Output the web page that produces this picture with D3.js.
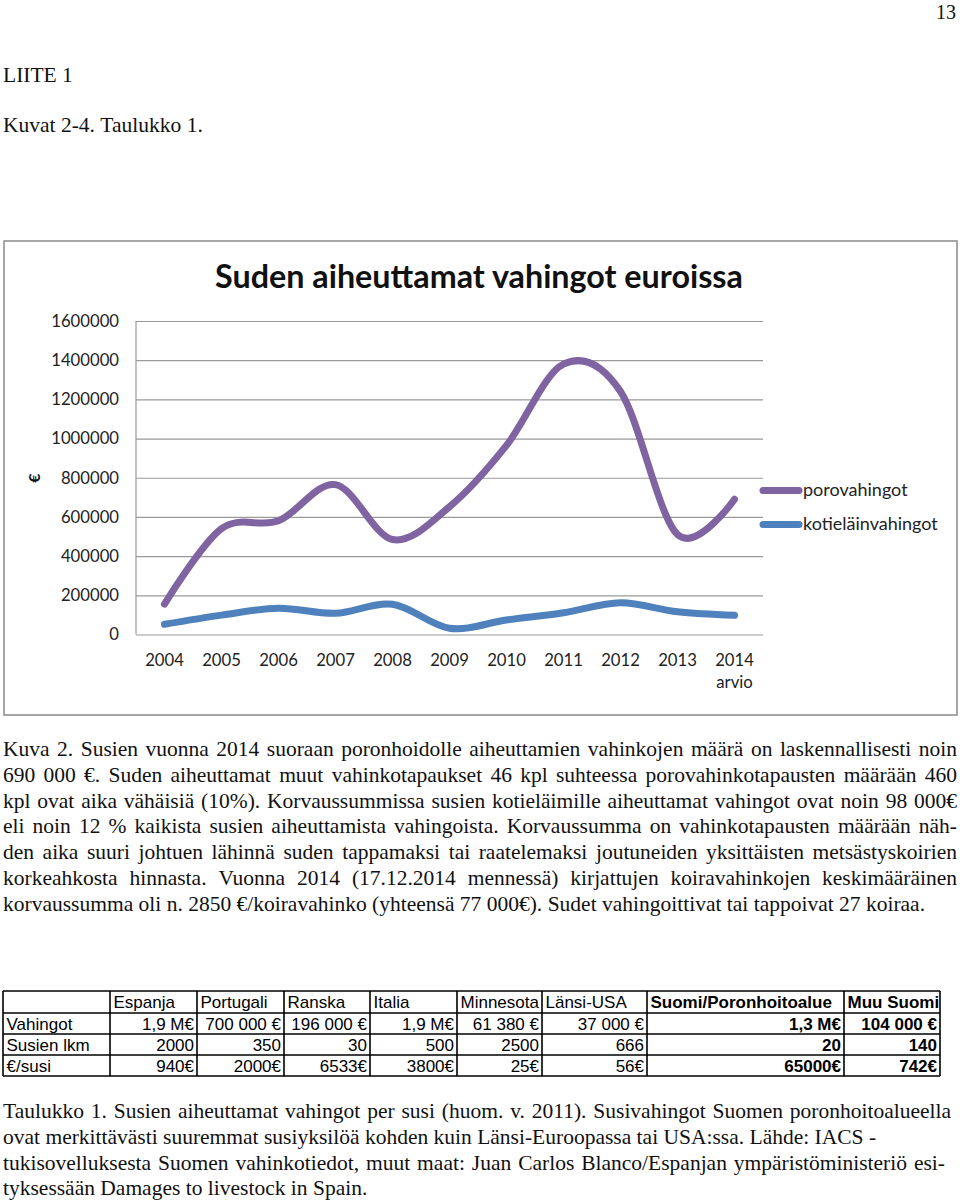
<!DOCTYPE html>
<html>
<head>
<meta charset="utf-8">
<script src="https://cdnjs.cloudflare.com/ajax/libs/d3/7.8.5/d3.min.js"></script>
<style>
  body { margin: 0; background: #fff; }
  svg { display: block; }
  .serif { font-family: "Liberation Serif", "Times New Roman", serif; font-size: 21.5px; fill: #111; }
  .tbl { font-family: "Liberation Sans", Arial, sans-serif; font-size: 17px; fill: #000; }
</style>
</head>
<body>
<div id="page"></div>
<script>
// chart data
var years = ["2004", "2005", "2006", "2007", "2008", "2009", "2010", "2011", "2012", "2013", "2014"];
var yearNotes = ["", "", "", "", "", "", "", "", "", "", "arvio"];
var poroDamage = [155000, 540000, 580000, 765000, 485000, 652000, 965000, 1380000, 1240000, 510000, 690000];
var kotiDamage = [52000, 99000, 134000, 108000, 154000, 32000, 74000, 111000, 162000, 116000, 98000];
var seriesNames = ["porovahingot", "kotieläinvahingot"];
var seriesColors = ["#8064a2", "#4f81bd"];
var yTicks = [0, 200000, 400000, 600000, 800000, 1000000, 1200000, 1400000, 1600000];
var chartTitle = "Suden aiheuttamat vahingot euroissa";

// table data
var tableHeader = ["", "Espanja", "Portugali", "Ranska", "Italia", "Minnesota", "Länsi-USA", "Suomi/Poronhoitoalue", "Muu Suomi"];
var tableRows = [
  ["Vahingot", "1,9 M€", "700 000 €", "196 000 €", "1,9 M€", "61 380 €", "37 000 €", "1,3 M€", "104 000 €"],
  ["Susien lkm", "2000", "350", "30", "500", "2500", "666", "20", "140"],
  ["€/susi", "940€", "2000€", "6533€", "3800€", "25€", "56€", "65000€", "742€"]
];

// page text
var pageNumber = "13";
var headingLines = ["LIITE 1", "Kuvat 2-4. Taulukko 1."];
var captionLines = [
  "Kuva 2. Susien vuonna 2014 suoraan poronhoidolle aiheuttamien vahinkojen määrä on laskennallisesti noin",
  "690 000 €. Suden aiheuttamat muut vahinkotapaukset 46 kpl suhteessa porovahinkotapausten määrään 460",
  "kpl ovat aika vähäisiä (10%). Korvaussummissa susien kotieläimille aiheuttamat vahingot ovat noin 98 000€",
  "eli noin 12 % kaikista susien aiheuttamista vahingoista. Korvaussumma on vahinkotapausten määrään näh-",
  "den aika suuri johtuen lähinnä suden tappamaksi tai raatelemaksi joutuneiden yksittäisten metsästyskoirien",
  "korkeahkosta hinnasta. Vuonna 2014 (17.12.2014 mennessä) kirjattujen koiravahinkojen keskimääräinen",
  "korvaussumma oli n. 2850 €/koiravahinko (yhteensä 77 000€). Sudet vahingoittivat tai tappoivat 27 koiraa."
];
var tableCaptionLines = [
  "Taulukko 1. Susien aiheuttamat vahingot per susi (huom. v. 2011). Susivahingot Suomen poronhoitoalueella",
  "ovat merkittävästi suuremmat susiyksilöä kohden kuin Länsi-Euroopassa tai USA:ssa. Lähde: IACS -",
  "tukisovelluksesta Suomen vahinkotiedot, muut maat: Juan Carlos Blanco/Espanjan ympäristöministeriö esi-",
  "tyksessään Damages to livestock in Spain."
];

// layout
var svg = d3.select("#page").append("svg")
  .attr("width", 960)
  .attr("height", 1204);

var chartFont = "Lato, 'Open Sans', sans-serif";
var plot = { left: 136, right: 763, top: 321, bottom: 634.5 };

// --- page text helpers ---
var spaceWidth = (function() {
  var t = svg.append("text").attr("class", "serif");
  var a = t.text("a a").node().getComputedTextLength();
  var b = t.text("aa").node().getComputedTextLength();
  t.remove();
  return a - b;
})();

// one line of body text, spread to x1 when x1 is given
function textLine(g, str, x0, y, x1) {
  var words = str.split(" ");
  var nodes = words.map(function(w) {
    return g.append("text").attr("class", "serif").attr("y", y).text(w);
  });
  var widths = nodes.map(function(n) { return n.node().getComputedTextLength(); });
  var gap = spaceWidth;
  if (x1 != null && words.length > 1) {
    gap = (x1 - x0 - d3.sum(widths)) / (words.length - 1);
  }
  var x = x0;
  nodes.forEach(function(n, i) {
    n.attr("x", x);
    x += widths[i] + gap;
  });
}

var textG = svg.append("g");

textG.append("text")
  .attr("class", "serif")
  .attr("x", 956)
  .attr("y", 19)
  .attr("text-anchor", "end")
  .style("font-size", "20px")
  .text(pageNumber);

textLine(textG, headingLines[0], 3, 82, null);
textLine(textG, headingLines[1], 3, 131.7, null);

captionLines.forEach(function(l, i) {
  var last = i === captionLines.length - 1;
  textLine(textG, l, 3, 756 + i * 25.8, last ? null : 957);
});

var tableCaptionEnds = [951, null, 945, null];
tableCaptionLines.forEach(function(l, i) {
  textLine(textG, l, 3, 1118 + i * 25.8, tableCaptionEnds[i]);
});

// --- chart ---
svg.append("rect")
  .attr("x", 4)
  .attr("y", 241)
  .attr("width", 953)
  .attr("height", 474)
  .attr("fill", "#fff")
  .attr("stroke", "#8a8a8a")
  .attr("stroke-width", 1.5);

// title, scaled to the width of the original lettering
var title = svg.append("text")
  .attr("x", 479)
  .attr("y", 288)
  .attr("text-anchor", "middle")
  .attr("font-family", chartFont)
  .attr("font-weight", "bold")
  .attr("font-size", 30)
  .attr("fill", "#111")
  .text(chartTitle);
var tw = title.node().getComputedTextLength();
title.attr("font-size", 30 * 528 / tw);

var x = d3.scaleBand()
  .domain(years)
  .range([plot.left, plot.right]);

var y = d3.scaleLinear()
  .domain([0, 1600000])
  .range([plot.bottom, plot.top]);

var leftAxis = d3.axisLeft(y)
  .tickValues(yTicks)
  .tickSize(-(plot.right - plot.left))
  .tickPadding(17)
  .tickFormat(d3.format("d"));

svg.append("g")
  .attr("transform", `translate(${plot.left}, 0)`)
  .call(leftAxis)
  .attr("font-family", chartFont)
  .attr("font-size", 16.7)
  .call(function(g) { g.select(".domain").remove(); })
  .call(function(g) {
    g.selectAll(".tick line").attr("stroke", "#9a9a9a").attr("stroke-width", 1.2);
    g.selectAll(".tick text").attr("fill", "#222");
  });

// vertical axis line
svg.append("line")
  .attr("x1", plot.left)
  .attr("x2", plot.left)
  .attr("y1", plot.top)
  .attr("y2", plot.bottom)
  .attr("stroke", "#9a9a9a")
  .attr("stroke-width", 1.2);

var bottomAxis = d3.axisBottom(x)
  .tickSize(0)
  .tickPadding(19.5);

svg.append("g")
  .attr("transform", `translate(0, ${plot.bottom})`)
  .call(bottomAxis)
  .attr("font-family", chartFont)
  .attr("font-size", 16.7)
  .call(function(g) { g.select(".domain").remove(); })
  .call(function(g) {
    g.selectAll(".tick text")
      .attr("fill", "#222")
      .each(function(d, i) {
        if (yearNotes[i]) {
          d3.select(this).append("tspan")
            .attr("x", 0)
            .attr("dy", "1.32em")
            .text(yearNotes[i]);
        }
      });
  });

// y axis title
svg.append("text")
  .attr("transform", "translate(40, 478) rotate(-90)")
  .attr("text-anchor", "middle")
  .attr("font-family", chartFont)
  .attr("font-weight", "bold")
  .attr("font-size", 16)
  .attr("fill", "#111")
  .text("€");

// smoothed lines
var line = d3.line()
  .x(function(d, i) { return x(years[i]) + x.bandwidth() / 2; })
  .y(function(d) { return y(d); })
  .curve(d3.curveCardinal);

[poroDamage, kotiDamage].forEach(function(series, i) {
  svg.append("path")
    .datum(series)
    .attr("d", line)
    .attr("fill", "none")
    .attr("stroke", seriesColors[i])
    .attr("stroke-width", 7)
    .attr("stroke-linecap", "round")
    .attr("stroke-linejoin", "round");
});

// legend
var legend = svg.append("g")
  .attr("font-family", chartFont)
  .attr("font-size", 18);

seriesNames.forEach(function(name, i) {
  var ly = 490.5 + i * 34;
  legend.append("line")
    .attr("x1", 763)
    .attr("x2", 799)
    .attr("y1", ly)
    .attr("y2", ly)
    .attr("stroke", seriesColors[i])
    .attr("stroke-width", 7)
    .attr("stroke-linecap", "round");
  legend.append("text")
    .attr("x", 803)
    .attr("y", ly)
    .attr("dy", "0.32em")
    .attr("fill", "#222")
    .text(name);
});

// --- table ---
var colX = [3, 110, 197, 284, 370, 457, 542, 647, 844, 940];
var rowY = [991, 1013, 1034, 1055, 1076];

var tbl = svg.append("g");

tbl.selectAll("line.h")
  .data(rowY)
  .enter()
  .append("line")
  .attr("class", "h")
  .attr("x1", colX[0])
  .attr("x2", colX[colX.length - 1])
  .attr("y1", d => d)
  .attr("y2", d => d)
  .attr("stroke", "#000")
  .attr("stroke-width", 1.6);

tbl.selectAll("line.v")
  .data(colX)
  .enter()
  .append("line")
  .attr("class", "v")
  .attr("x1", d => d)
  .attr("x2", d => d)
  .attr("y1", rowY[0])
  .attr("y2", rowY[rowY.length - 1])
  .attr("stroke", "#000")
  .attr("stroke-width", 1.6);

var allRows = [tableHeader].concat(tableRows);
allRows.forEach(function(row, r) {
  var base = (rowY[r] + rowY[r + 1]) / 2 + 6;
  row.forEach(function(cell, c) {
    if (!cell) return;
    var leftAligned = r === 0 || c === 0;
    tbl.append("text")
      .attr("class", "tbl")
      .attr("x", leftAligned ? colX[c] + 3.5 : colX[c + 1] - 3)
      .attr("y", base)
      .attr("text-anchor", leftAligned ? "start" : "end")
      .attr("font-weight", c >= 7 ? "bold" : "normal")
      .text(cell);
  });
});
</script>
</body>
</html>
